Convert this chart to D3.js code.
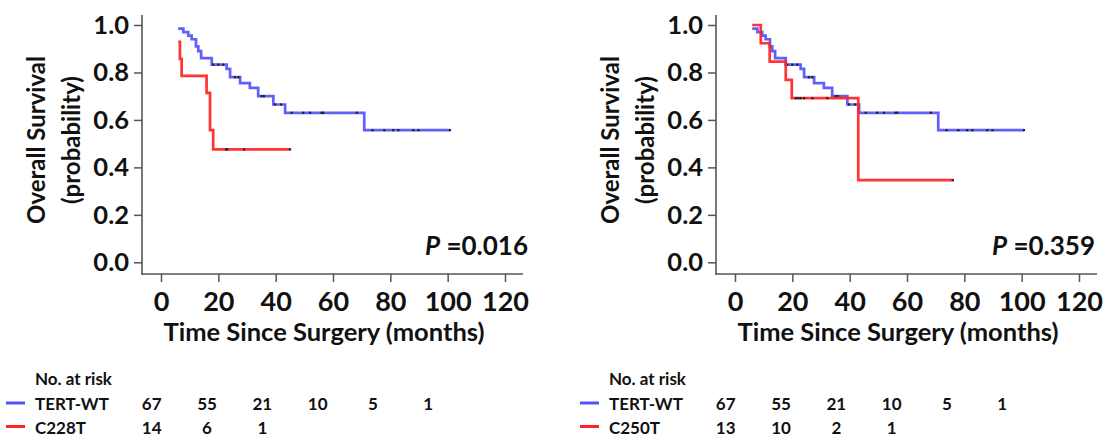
<!DOCTYPE html>
<html>
<head>
<meta charset="utf-8">
<script src="https://cdn.jsdelivr.net/npm/d3@7"></script>
<style>
  body { margin: 0; background: #fff; }
  text { font-family: Lato, "Open Sans", sans-serif; fill: #111; }
</style>
</head>
<body>
<div class="container"></div>
<script>
const w = 1107;
const h = 437;

// axis ticks
const monthTicks = [0, 20, 40, 60, 80, 100, 120];
const probTicks = [0, 0.2, 0.4, 0.6, 0.8, 1.0];
const riskTimes = [0, 20, 40, 60, 80, 100];

// TERT-WT (same cohort in both panels)
const wtTimes  = [6.0, 7.8, 9.5, 10.7, 12.2, 13.0, 14.0, 17.7, 22.9, 24.1, 27.6, 31.0, 33.9, 39.2, 43.3, 70.9];
const wtSurv   = [0.985, 0.970, 0.955, 0.940, 0.910, 0.890, 0.860, 0.833, 0.815, 0.780, 0.755, 0.735, 0.700, 0.665, 0.630, 0.557];
const wtCensor = [18.2, 20.0, 21.7, 25.8, 27.0, 35.1, 35.9, 39.8, 41.9, 45.6, 49.6, 52.0, 56.0, 56.6, 68.3, 73.8, 77.9, 81.0, 82.8, 88.0, 89.8, 100.8];
const wtEnd = 100.8;
const wtRisk = [67, 55, 21, 10, 5, 1];

// C228T
const c228Times  = [6.0, 6.6, 7.2, 15.9, 17.1, 18.2];
const c228Surv   = [0.929, 0.857, 0.786, 0.714, 0.557, 0.476];
const c228Censor = [22.7, 23.1, 29.0, 45.0];
const c228End = 45.0;
const c228Risk = [14, 6, 1];

// C250T
const c250Times  = [6.0, 9.0, 12.1, 17.7, 19.8, 43.0];
const c250Surv   = [1.0, 0.923, 0.846, 0.769, 0.692, 0.346];
const c250Censor = [21.2, 22.1, 22.9, 24.1, 27.0, 32.2, 76.0];
const c250End = 76.0;
const c250Risk = [13, 10, 2, 1];

const groupNames = ["TERT-WT", "C228T", "C250T"];
const pValues = ["0.016", "0.359"];

const blue = "#5252ff";
const red = "#ff2323";
const axisColor = "#555";

const svg = d3.select('.container').append('svg')
    .attr('width', w)
    .attr('height', h)
    .style('display', 'block');

svg.append('rect').attr('width', w).attr('height', h).attr('fill', '#fff');

const x = d3.scaleLinear().domain([0, 120]).range([161, 505]);
const y = d3.scaleLinear().domain([0, 1]).range([262.3, 25]);
const xRisk = d3.scaleLinear().domain([0, 100]).range([151.7, 428.3]);

const panels = [
  { dx: 0,   pRight: 528, mut: { name: groupNames[1], times: c228Times, surv: c228Surv, censor: c228Censor, end: c228End, risk: c228Risk }, p: pValues[0] },
  { dx: 574, pRight: 521, mut: { name: groupNames[2], times: c250Times, surv: c250Surv, censor: c250Censor, end: c250End, risk: c250Risk }, p: pValues[1] }
];
const wt = { name: groupNames[0], times: wtTimes, surv: wtSurv, censor: wtCensor, end: wtEnd, risk: wtRisk };

const line = d3.line().x(d => x(d[0])).y(d => y(d[1]));

function stepPoints(g) {
  const pts = [[g.times[0], g.surv[0]]];
  for (let i = 1; i < g.times.length; i++) {
    pts.push([g.times[i], g.surv[i - 1]]);
    pts.push([g.times[i], g.surv[i]]);
  }
  pts.push([g.end, g.surv[g.surv.length - 1]]);
  return pts;
}

function survAt(g, t) {
  let s = g.surv[0];
  g.times.forEach((tt, i) => { if (tt <= t) s = g.surv[i]; });
  return s;
}

panels.forEach(p => {
  const g = svg.append('g').attr('transform', `translate(${p.dx},0)`);

  // y axis
  const ya = g.append('g')
      .attr('transform', 'translate(142,0)')
      .call(d3.axisLeft(y).tickValues(probTicks).tickFormat(d3.format('.1f')).tickSize(8).tickPadding(5));
  ya.select('.domain').remove();
  ya.selectAll('line').attr('stroke', axisColor).attr('stroke-width', 1.5);
  ya.selectAll('text')
      .attr('font-size', 25.5)
      .attr('font-weight', 'bold')
      .attr('font-family', 'Lato, sans-serif')
      .attr('fill', '#111');

  // x axis
  const xa = g.append('g')
      .attr('transform', 'translate(0,274)')
      .call(d3.axisBottom(x).tickValues(monthTicks).tickSize(8).tickPadding(10));
  xa.select('.domain').remove();
  xa.selectAll('line').attr('stroke', axisColor).attr('stroke-width', 1.5);
  xa.selectAll('text')
      .attr('font-size', 27)
      .attr('font-weight', 'bold')
      .attr('font-family', 'Lato, sans-serif')
      .attr('fill', '#111');

  // frame lines
  g.append('line').attr('x1', 142).attr('x2', 142).attr('y1', 15).attr('y2', 274.5)
      .attr('stroke', axisColor).attr('stroke-width', 1.6);
  g.append('line').attr('x1', 141.2).attr('x2', 523).attr('y1', 274).attr('y2', 274)
      .attr('stroke', axisColor).attr('stroke-width', 1.6);

  // axis titles
  g.append('text')
      .attr('x', 324).attr('y', 341)
      .attr('text-anchor', 'middle')
      .attr('font-size', 25.5)
      .attr('font-weight', 'bold')
      .text('Time Since Surgery (months)');

  const yt = g.append('text')
      .attr('transform', 'translate(0,140) rotate(-90)')
      .attr('text-anchor', 'middle')
      .attr('font-size', 24)
      .attr('font-weight', 'bold');
  yt.append('tspan').attr('x', 0).attr('y', 45).text('Overall Survival');
  yt.append('tspan').attr('x', 0).attr('y', 80).text('(probability)');

  // curves: wild type first, mutant on top
  [[wt, blue], [p.mut, red]].forEach(([grp, col]) => {
    g.append('path')
        .datum(stepPoints(grp))
        .attr('d', line)
        .attr('fill', 'none')
        .attr('stroke', col)
        .attr('stroke-width', 2.7)
        .attr('stroke-opacity', 0.92);
    g.selectAll(null)
        .data(grp.censor)
        .enter().append('rect')
        .attr('x', d => x(d) - 1.1)
        .attr('y', d => y(survAt(grp, d)) - 1.1)
        .attr('width', 2.2)
        .attr('height', 2.2)
        .attr('fill', '#222');
  });

  // p value
  const pt = g.append('text')
      .attr('x', p.pRight).attr('y', 255)
      .attr('text-anchor', 'end')
      .attr('font-size', 26)
      .attr('font-weight', 'bold');
  pt.append('tspan').attr('font-style', 'italic').text('P');
  pt.append('tspan').text(' =' + p.p);

  // number at risk table
  g.append('text')
      .attr('x', 35).attr('y', 385)
      .attr('font-size', 17)
      .attr('font-weight', 'bold')
      .text('No. at risk');

  [[wt, blue, 410], [p.mut, red, 433.5]].forEach(([grp, col, yy]) => {
    g.append('line')
        .attr('x1', 6).attr('x2', 25)
        .attr('y1', yy - 7).attr('y2', yy - 7)
        .attr('stroke', col).attr('stroke-width', 3);
    g.append('text')
        .attr('x', 35).attr('y', yy)
        .attr('font-size', 17)
        .attr('font-weight', 'bold')
        .text(grp.name);
    g.selectAll(null)
        .data(grp.risk)
        .enter().append('text')
        .attr('x', (d, i) => xRisk(riskTimes[i]))
        .attr('y', yy)
        .attr('text-anchor', 'middle')
        .attr('font-size', 17)
        .attr('font-weight', 'bold')
        .text(d => d);
  });
});
</script>
</body>
</html>
